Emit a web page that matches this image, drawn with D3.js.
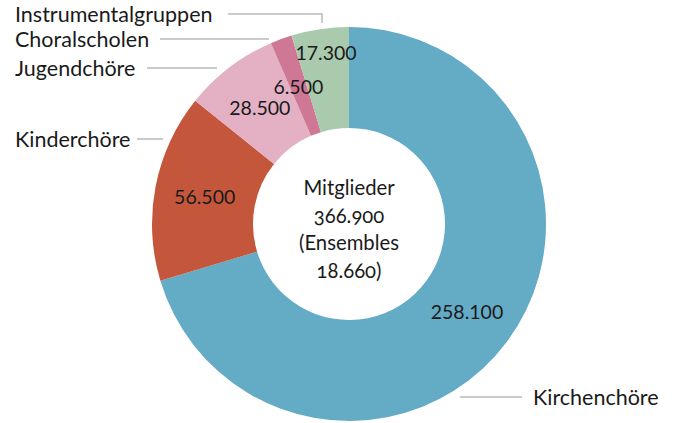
<!DOCTYPE html>
<html>
<head>
  <meta charset="utf-8">
  <script src="https://cdn.jsdelivr.net/npm/d3@7"></script>
  <style>
    body { margin: 0; background: #fff; }
    text { font-family: Lato, "Open Sans", sans-serif; fill: #1a1a1a; }
  </style>
</head>
<body>
  <svg width="673" height="423" id="chart"></svg>
  <script>
    // data
    const categories = ['Kirchenchöre', 'Kinderchöre', 'Jugendchöre', 'Choralscholen', 'Instrumentalgruppen'];
    const members = [258100, 56500, 28500, 6500, 17300];
    const valueLabels = ['258.100', '56.500', '28.500', '6.500', '17.300'];
    const colors = ['#64abc6', '#c4573b', '#e3b0c4', '#cf7896', '#a9caad'];
    const centerLines = ['Mitglieder', '366.900', '(Ensembles', '18.660)'];

    const svg = d3.select('#chart');
    const cx = 349, cy = 224;
    const outerR = 197, innerR = 96;

    const g = svg.append('g').attr('transform', `translate(${cx},${cy})`);

    const pie = d3.pie().sort(null).value(d => d.value);
    const arcs = pie(categories.map((c, i) => ({ name: c, value: members[i], label: valueLabels[i], color: colors[i] })));

    const arc = d3.arc().innerRadius(innerR).outerRadius(outerR);
    const labelArc = d3.arc().innerRadius(147).outerRadius(147);

    g.selectAll('path')
      .data(arcs)
      .join('path')
      .attr('d', arc)
      .attr('fill', d => d.data.color);

    // value labels inside the ring
    g.selectAll('.val')
      .data(arcs)
      .join('text')
      .attr('class', 'val')
      .attr('text-anchor', 'middle')
      .attr('dominant-baseline', 'central')
      .attr('font-size', 19.5)
      .attr('transform', d => {
        let [x, y] = labelArc.centroid(d);
        // small green slice: label pushed outward to clear its neighbour
        if (d.index === 4) { x = -23; y = -172; }
        return `translate(${x},${y})`;
      })
      .text(d => d.data.label);

    // centre text
    svg.append('text')
      .attr('x', cx)
      .attr('text-anchor', 'middle')
      .attr('font-size', 20.3)
      .style('font-variant-numeric', 'oldstyle-nums')
      .selectAll('tspan')
      .data(centerLines)
      .join('tspan')
      .attr('x', cx)
      .attr('y', (d, i) => 187 + i * 27.7)
      .attr('dominant-baseline', 'central')
      .text(d => d);

    // callouts
    const callouts = [
      { i: 4, tx: 15, ty: 14, x1: 228, x2: 322, drop: 23 },
      { i: 3, tx: 15, ty: 39, x1: 160, x2: 269 },
      { i: 2, tx: 15, ty: 68, x1: 147, x2: 217 },
      { i: 1, tx: 15, ty: 139, x1: 137, x2: 163 },
      { i: 0, tx: 533, ty: 397, x1: 460, x2: 522 }
    ];
    const lines = svg.append('g').attr('stroke', '#b9b9b9').attr('stroke-width', 1.5).attr('fill', 'none');
    callouts.forEach(c => {
      const pts = [[c.x1, c.ty], [c.x2, c.ty]];
      if (c.drop) pts.push([c.x2, c.drop]);
      lines.append('path').attr('d', d3.line()(pts));
      svg.append('text')
        .attr('x', c.tx)
        .attr('y', c.ty)
        .attr('dominant-baseline', 'central')
        .attr('font-size', 21.5)
        .text(categories[c.i]);
    });
  </script>
</body>
</html>
